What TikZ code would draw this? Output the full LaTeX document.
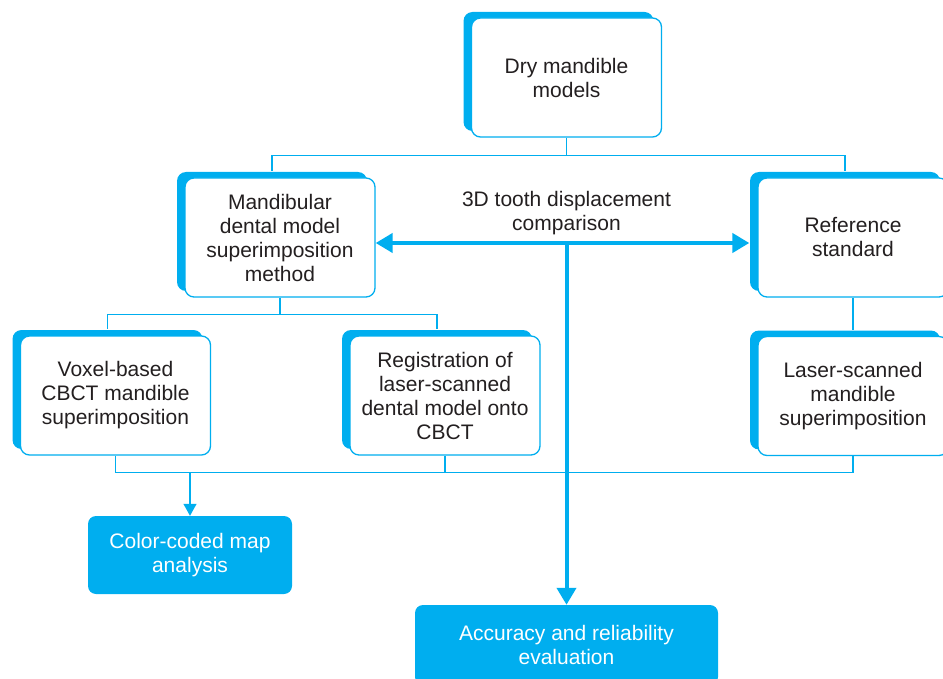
\documentclass[tikz,border=0pt]{standalone}
\usepackage{fontspec}
\setmainfont{Liberation Sans}
\usetikzlibrary{shadows,arrows.meta,calc}
\definecolor{cyanb}{HTML}{00AEEF}
\definecolor{inkgray}{HTML}{231F20}
\begin{document}
\begin{tikzpicture}[x=1pt,y=-1pt,
      txt/.style={font=\fontsize{21}{24}\selectfont,align=center},
      box/.style={txt,text=inkgray,draw=cyanb,line width=1.3pt,fill=white,
        rounded corners=9pt,minimum width=190pt,minimum height=119pt,
        drop shadow={shadow xshift=-8pt,shadow yshift=6pt,fill=cyanb,opacity=1}},
      solid box/.style={txt,text=white,fill=cyanb,rounded corners=8pt},
      link/.style={draw=cyanb,line width=1.3pt},
      bold link/.style={draw=cyanb,line width=4pt}]
      \useasboundingbox (0,0) rectangle (943,679);
      \path (566.5,77.5) node[box] (dry) {Dry mandible\\models};
      \path (280,237.5) node[box] (mand) {Mandibular\\dental model\\superimposition\\method};
      \path (853,237.5) node[box] (ref) {Reference\\standard};
      \path (115.5,395.5) node[box] (vox) {Voxel-based\\CBCT mandible\\superimposition};
      \path (445,395.5) node[box] (reg) {Registration of\\laser-scanned\\dental model onto\\CBCT};
      \path (853,396) node[box] (laser) {Laser-scanned\\mandible\\superimposition};
      \path (190,555) node[solid box,minimum width=204pt,minimum height=78pt] (color) {Color-coded map\\analysis};
      \path (566.5,645) node[solid box,minimum width=303pt,minimum height=80pt] (acc) {Accuracy and reliability\\evaluation};
      \path (566.5,213) node[txt,text=inkgray] (cmp) {3D tooth displacement\\comparison};
      \draw[link] (dry.south) -- ++(0,18) coordinate (busT) -| ([shift={(-8pt,6pt)}]mand.north);
      \draw[link] (busT) -| ([shift={(-8pt,6pt)}]ref.north);
      \draw[link] (mand.south) -- ++(0,17) coordinate (busM) -| ([shift={(-8pt,6pt)}]vox.north);
      \draw[link] (busM) -| ([shift={(-8pt,6pt)}]reg.north);
      \draw[link] (ref.south) -- ([yshift=6pt]laser.north);
      \draw[link] (vox.south) -- ++(0,17) coordinate (busB) -| (laser.south);
      \draw[link] (reg.south) -- (reg.south |- busB);
      \draw[link,-{Triangle[width=13pt,length=12pt]}] (color.north |- busB) -- (color.north);
      \draw[bold link,{Triangle[width=19pt,length=17pt]}-{Triangle[width=19pt,length=17pt]}]
        ([yshift=-5.5pt]mand.east) coordinate (cmpL) -- ([shift={(-8pt,-5.5pt)}]ref.west);
      \draw[bold link,-{Triangle[width=19pt,length=17pt]}] (dry.south |- cmpL) -- (acc.north);
     \end{tikzpicture}
\end{document}
